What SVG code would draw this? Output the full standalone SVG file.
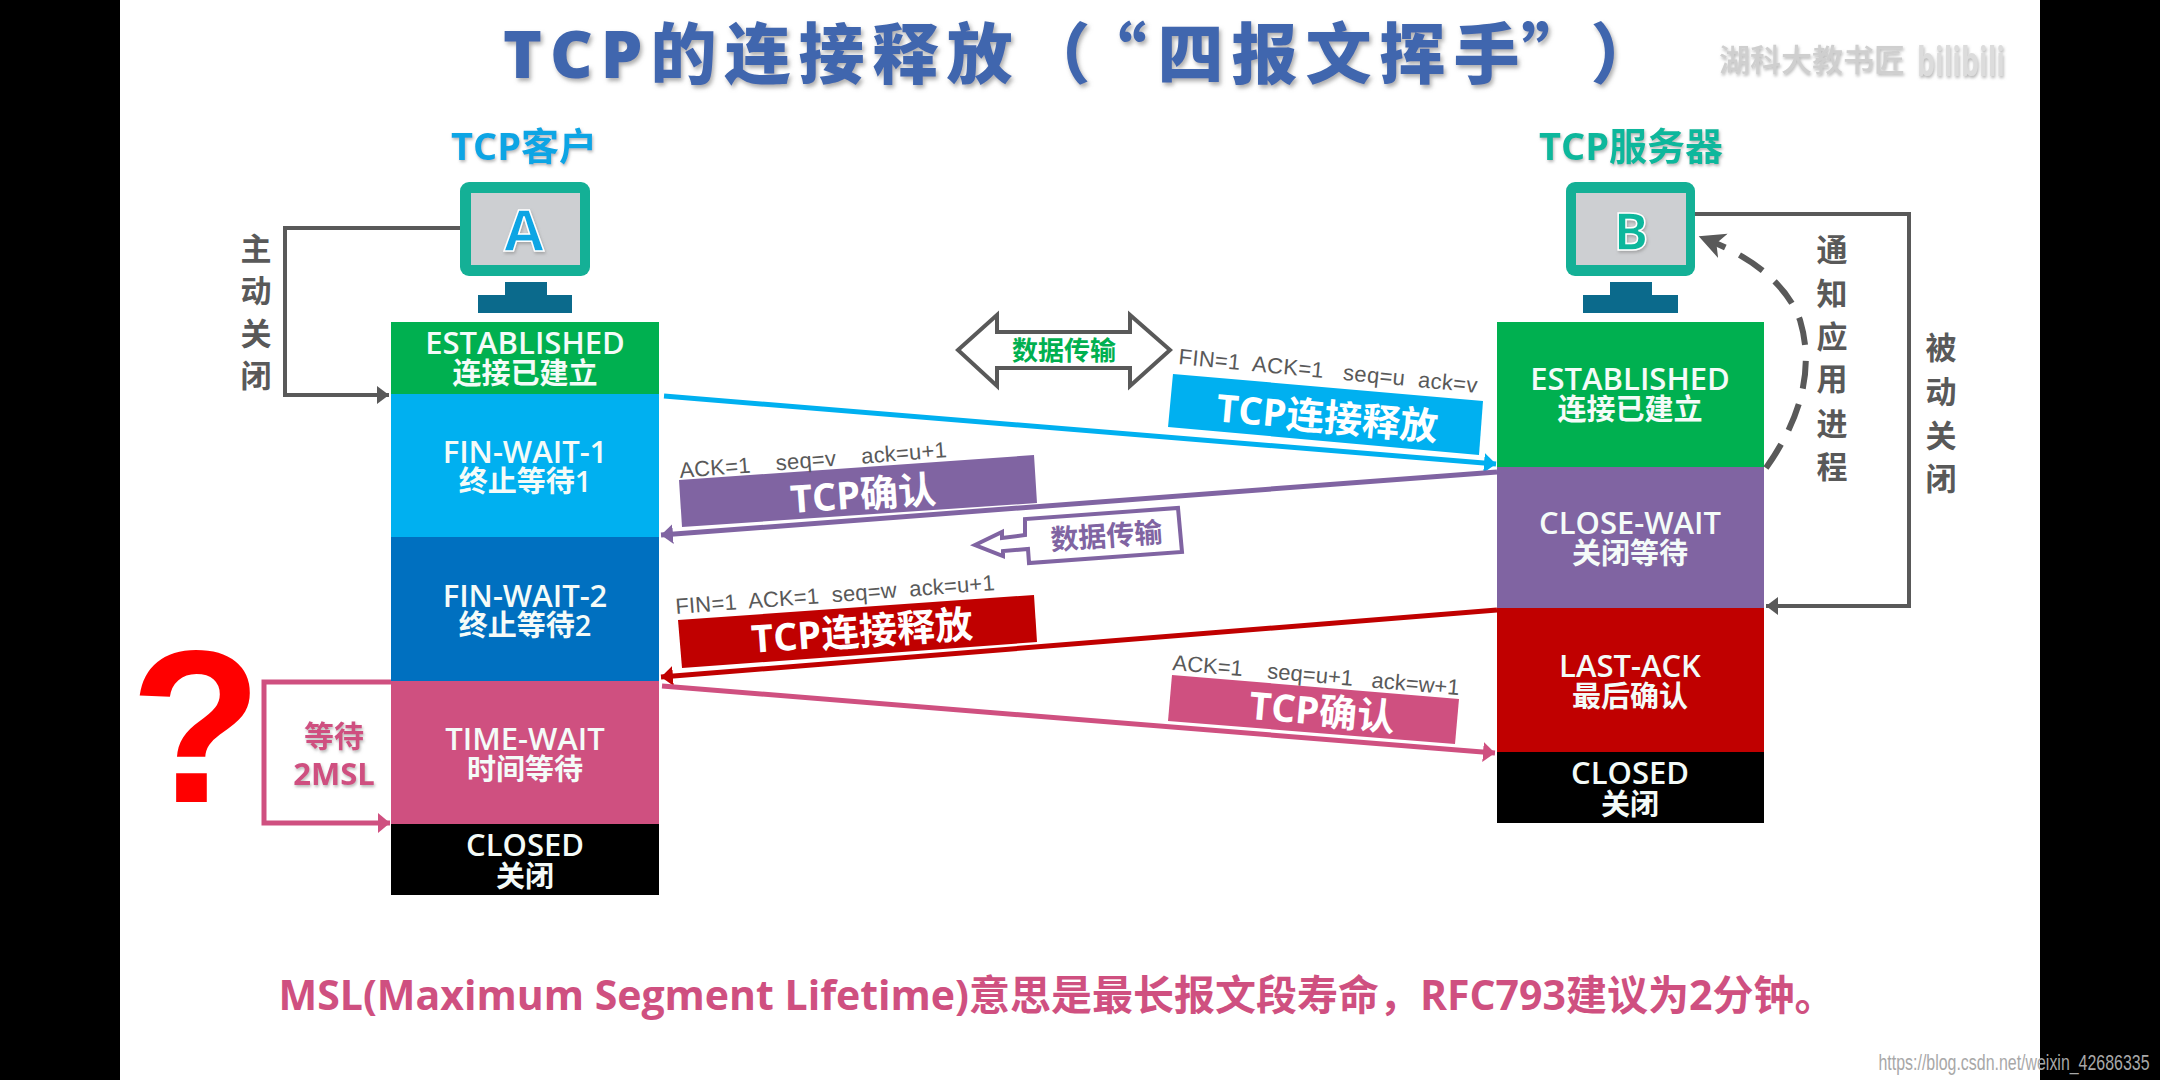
<svg xmlns="http://www.w3.org/2000/svg" width="2160" height="1080" viewBox="0 0 2160 1080">
<style>
text{font-family:"Open Sans","Noto Sans CJK SC",sans-serif;font-weight:700;text-anchor:middle}
.st{fill:#f4fbf8;font-size:31px;font-weight:600}
.st3{fill:#f4fbf8;font-size:29px;font-weight:600}
.ban{fill:#fff;font-size:38px;font-weight:700}
.lbl{font-family:"Liberation Sans","Noto Sans CJK SC",sans-serif;font-weight:400;font-size:22px;fill:#595959;white-space:pre;text-anchor:start}
.v{fill:#595959;font-size:31px;font-weight:700}
.gl{fill:none;stroke:#595959;stroke-width:4}
.cn{fill:none;stroke-width:5}
</style>
<defs>
<filter id="sh" x="-5%" y="-20%" width="110%" height="150%"><feDropShadow dx="2" dy="3" stdDeviation="2" flood-color="#777" flood-opacity=".6"/></filter>
<filter id="sh2" x="-10%" y="-20%" width="120%" height="150%"><feDropShadow dx="1" dy="2" stdDeviation="1.5" flood-color="#888" flood-opacity=".6"/></filter>
<marker id="mg" markerUnits="userSpaceOnUse" markerWidth="14" markerHeight="18" refX="12" refY="9" orient="auto"><path d="M0 0L12 9L0 18z" fill="#595959"/></marker>
<marker id="mb" markerUnits="userSpaceOnUse" markerWidth="14" markerHeight="20" refX="12" refY="10" orient="auto"><path d="M0 0L12 10L0 20z" fill="#00b0f0"/></marker>
<marker id="mp" markerUnits="userSpaceOnUse" markerWidth="14" markerHeight="20" refX="12" refY="10" orient="auto"><path d="M0 0L12 10L0 20z" fill="#8064a2"/></marker>
<marker id="mr" markerUnits="userSpaceOnUse" markerWidth="14" markerHeight="20" refX="12" refY="10" orient="auto"><path d="M0 0L12 10L0 20z" fill="#c00000"/></marker>
<marker id="mk" markerUnits="userSpaceOnUse" markerWidth="14" markerHeight="20" refX="12" refY="10" orient="auto"><path d="M0 0L12 10L0 20z" fill="#cf5080"/></marker>
<marker id="md" markerUnits="userSpaceOnUse" markerWidth="30" markerHeight="30" refX="16" refY="13" orient="auto"><path d="M26 13L0 0L7 13L0 26z" fill="#595959"/></marker>
</defs>
<rect width="2160" height="1080" fill="#fff"/>
<rect width="120" height="1080" fill="#000"/>
<rect x="2040" width="120" height="1080" fill="#000"/>

<text id="title" x="503" y="78" font-size="66" letter-spacing="8" fill="#4066ae" filter="url(#sh)" style="font-weight:800;text-anchor:start">TCP的连接释放<tspan dx="4">（</tspan><tspan style='font-family:"Noto Sans CJK SC",sans-serif' dx="15">“</tspan><tspan dx="3">四报文挥手</tspan><tspan style='font-family:"Noto Sans CJK SC",sans-serif' dx="-6">”</tspan><tspan dx="28">）</tspan></text>
<g id="wm1"><text x="1812" y="71" font-size="31" filter="url(#sh2)" style="fill:#cfcfcf;font-weight:500">湖科大教书匠</text><text x="1961" y="76" font-size="42" textLength="88" lengthAdjust="spacingAndGlyphs" filter="url(#sh2)" style="fill:#dcdcdc">bilibili</text></g>

<g id="nodeA">
<text x="524" y="160" font-size="38" fill="#0ea5e4" filter="url(#sh2)">TCP客户</text>
<rect x="460" y="182" width="130" height="94" rx="9" fill="#14b096"/>
<rect x="471" y="193" width="109" height="72" fill="#cdcfd2"/>
<path d="M505 282H547V295H572V313H478V295H505z" fill="#0b6a8c"/>
<text x="524" y="251" font-size="58" fill="#0ea5e4" stroke="#fff" stroke-width="1.5" filter="url(#sh2)">A</text>
</g>
<g id="nodeB">
<text x="1631" y="160" font-size="38" fill="#10b79c" filter="url(#sh2)">TCP服务器</text>
<rect x="1566" y="182" width="129" height="94" rx="9" fill="#14b096"/>
<rect x="1576" y="193" width="110" height="72" fill="#cdcfd2"/>
<path d="M1610 282H1652V295H1678V313H1583V295H1610z" fill="#0b6a8c"/>
<text x="1631" y="250" font-size="52" fill="#10b79c" stroke="#fff" stroke-width="1.5" filter="url(#sh2)">B</text>
</g>

<g id="a-established"><rect x="391" y="322" width="268" height="72" fill="#00b050"/><text class="st" x="525" y="354">ESTABLISHED</text><text class="st3" x="525" y="384">连接已建立</text></g>
<g id="a-finwait1"><rect x="391" y="394" width="268" height="143" fill="#00b0f0"/><text class="st" x="525" y="463">FIN-WAIT-1</text><text class="st3" x="525" y="492">终止等待1</text></g>
<g id="a-finwait2"><rect x="391" y="537" width="268" height="144" fill="#0070c0"/><text class="st" x="525" y="607">FIN-WAIT-2</text><text class="st3" x="525" y="636">终止等待2</text></g>
<g id="a-timewait"><rect x="391" y="681" width="268" height="143" fill="#cf5080"/><text class="st" x="525" y="750">TIME-WAIT</text><text class="st3" x="525" y="780">时间等待</text></g>
<g id="a-closed"><rect x="391" y="824" width="268" height="71" fill="#000"/><text class="st" x="525" y="856">CLOSED</text><text class="st3" x="525" y="887">关闭</text></g>

<g id="b-established"><rect x="1497" y="322" width="267" height="145" fill="#00b050"/><text class="st" x="1630" y="390">ESTABLISHED</text><text class="st3" x="1630" y="420">连接已建立</text></g>
<g id="b-closewait"><rect x="1497" y="467" width="267" height="141" fill="#8064a2"/><text class="st" x="1630" y="534">CLOSE-WAIT</text><text class="st3" x="1630" y="564">关闭等待</text></g>
<g id="b-lastack"><rect x="1497" y="608" width="267" height="144" fill="#c00000"/><text class="st" x="1630" y="677">LAST-ACK</text><text class="st3" x="1630" y="707">最后确认</text></g>
<g id="b-closed"><rect x="1497" y="752" width="267" height="71" fill="#000"/><text class="st" x="1630" y="784">CLOSED</text><text class="st3" x="1630" y="815">关闭</text></g>

<g id="banners">
<polygon points="1173,374 1483,401 1479,455 1168,427" fill="#00b0f0"/>
<text class="ban" transform="translate(1326,431) rotate(5)">TCP连接释放</text>
<polygon points="679,480 1034,455 1037,503 682,527" fill="#8064a2"/>
<text class="ban" transform="translate(864,508) rotate(-4)">TCP确认</text>
<polygon points="678,620 1034,595 1037,642 682,668" fill="#c00000"/>
<text class="ban" transform="translate(863,645) rotate(-4)">TCP连接释放</text>
<polygon points="1172,675 1459,699 1455,744 1168,721" fill="#cf5080"/>
<text class="ban" transform="translate(1321,725) rotate(5)">TCP确认</text>
</g>

<g id="labels">
<text class="lbl" transform="translate(1178,364) rotate(5.5)" textLength="300">FIN=1  ACK=1   seq=u  ack=v</text>
<text class="lbl" transform="translate(680,478) rotate(-4.5)" textLength="268">ACK=1    seq=v    ack=u+1</text>
<text class="lbl" transform="translate(676,614) rotate(-4.3)" textLength="320">FIN=1  ACK=1  seq=w  ack=u+1</text>
<text class="lbl" transform="translate(1172,670) rotate(5)" textLength="288">ACK=1    seq=u+1   ack=w+1</text>
</g>

<g id="connectors">
<path class="gl" d="M460 228H285V395H389" marker-end="url(#mg)"/>
<path class="gl" d="M1695 214H1909V606H1766" marker-end="url(#mg)"/>
<path d="M1766 468C1800 420 1815 370 1800 320C1785 280 1746 255 1708 240" fill="none" stroke="#595959" stroke-width="6" stroke-dasharray="28 16" marker-end="url(#md)"/>
<path class="cn" stroke="#00b0f0" d="M664 396L1496 464" marker-end="url(#mb)"/>
<path class="cn" stroke="#8064a2" d="M1497 472L661 535" marker-end="url(#mp)"/>
<path class="cn" stroke="#c00000" d="M1497 610L661 677" marker-end="url(#mr)"/>
<path class="cn" stroke="#cf5080" d="M662 686L1495 753" marker-end="url(#mk)"/>
<path class="cn" stroke="#cf5080" d="M391 682H264V823H390" marker-end="url(#mk)"/>
</g>

<g id="data-both">
<path d="M958 350L997 315V332H1130V315L1170 350L1130 386V368H997V386z" fill="#fff" stroke="#595959" stroke-width="4"/>
<text x="1064" y="360" font-size="26" fill="#00b050">数据传输</text>
</g>
<g id="data-back">
<path d="M975 545L1002 532V538L1025 535V519L1178 508L1182 552L1029 563L1028 549L1003 551V556z" fill="#fff" stroke="#8064a2" stroke-width="4"/>
<text transform="translate(1107,546) rotate(-4)" font-size="28" fill="#8064a2">数据传输</text>
</g>

<g id="notes">
<text class="v" x="256" y="260">主</text><text class="v" x="256" y="302">动</text><text class="v" x="256" y="345">关</text><text class="v" x="256" y="387">闭</text>
<text class="v" x="1832" y="261">通</text><text class="v" x="1832" y="305">知</text><text class="v" x="1832" y="348">应</text><text class="v" x="1832" y="390">用</text><text class="v" x="1832" y="435">进</text><text class="v" x="1832" y="478">程</text>
<text class="v" x="1941" y="359">被</text><text class="v" x="1941" y="403">动</text><text class="v" x="1941" y="447">关</text><text class="v" x="1941" y="490">闭</text>
<text x="334" y="747" font-size="30" fill="#cf5080" filter="url(#sh2)">等待</text>
<text x="334" y="785" font-size="31" fill="#cf5080" filter="url(#sh2)">2MSL</text>
<text x="196" y="802" font-size="217" fill="#f00" style='font-family:"Liberation Sans",sans-serif'>?</text>
<text x="1057" y="1010" font-size="41" fill="#cf5080">MSL(Maximum Segment Lifetime)意思是最长报文段寿命，RFC793建议为2分钟。</text>
<text x="2014" y="1070" font-size="22" fill="#a8a8a8" textLength="271" lengthAdjust="spacingAndGlyphs" style='font-family:"Liberation Sans",sans-serif;font-weight:400'>https://blog.csdn.net/weixin_42686335</text>
</g>
</svg>
